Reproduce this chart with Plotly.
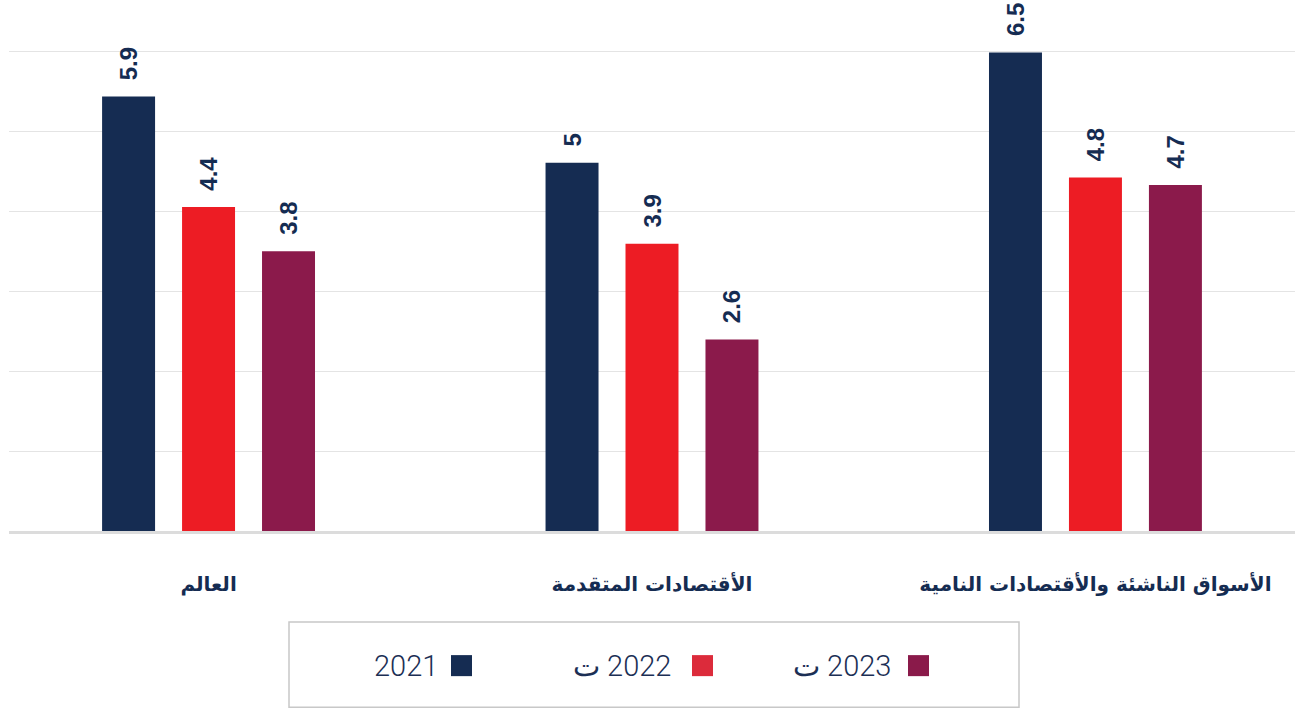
import plotly.graph_objects as go

# ---- data ----
categories = ["العالم", "الأقتصادات المتقدمة", "الأسواق الناشئة والأقتصادات النامية"]
series_names = ["2021", "ت\u200e 2022", "ت\u200e 2023"]
values_2021 = [5.9, 5.0, 6.5]
values_2022 = [4.4, 3.9, 4.8]
values_2023 = [3.8, 2.6, 4.7]
series_values = [values_2021, values_2022, values_2023]
colors = ["#152c52", "#ed1c24", "#8b1a4b"]
legend_colors = ["#152c52", "#dc2b3b", "#8a1a4a"]

W, H = 1295, 709
GRID_STEP = 6.51 / 6          # gridline spacing (axis units)
Y_RANGE_MAX = 6.75
PX_PER_UNIT = 73.56
PLOT_LEFT, PLOT_RIGHT, PLOT_BOTTOM = 9, 1295, 531
PLOT_TOP = PLOT_BOTTOM - Y_RANGE_MAX * PX_PER_UNIT
ML, MR, MT, MB = PLOT_LEFT, W - PLOT_RIGHT, PLOT_TOP, H - PLOT_BOTTOM
NAVY = "#152c52"

fig = go.Figure()
for name, vals, col in zip(series_names, series_values, colors):
    fig.add_trace(go.Bar(
        x=categories, y=vals, name=name,
        marker=dict(color=col, line=dict(width=0)),
        text=["\u00a0\u00a0" + (f"{v:g}") for v in vals],
        textposition="outside", textangle=-90,
        textfont=dict(family="Liberation Sans, Arial, sans-serif", size=24, color=NAVY, weight="bold"),
        cliponaxis=False, showlegend=False, hoverinfo="skip",
    ))

# ---- custom RTL legend (text left of swatch), positions in screen pixels ----
pw, ph = W - ML - MR, H - MT - MB
def px(xs):
    return (xs - ML) / pw
def py(ys):
    return (PLOT_BOTTOM - ys) / ph

shapes = [dict(type="rect", xref="paper", yref="paper",
               x0=px(289), x1=px(1019), y0=py(622), y1=py(707),
               line=dict(color="#c8c8c8", width=1.5), fillcolor="rgba(0,0,0,0)")]
annotations = []
swatch_left = [451, 692, 908]
text_right = [440, 673, 893]
for name, col, sl, tr in zip(series_names, legend_colors, swatch_left, text_right):
    shapes.append(dict(type="rect", xref="paper", yref="paper",
                       x0=px(sl), x1=px(sl + 21), y0=py(655), y1=py(676),
                       line=dict(width=0), fillcolor=col))
    annotations.append(dict(xref="paper", yref="paper", x=px(tr), y=py(666),
                            xanchor="right", yanchor="middle", showarrow=False,
                            text=name,
                            font=dict(family="Roboto, Noto Sans, DejaVu Sans, sans-serif",
                                      size=29, color="#1c2f55", weight=300)))

fig.update_layout(
    width=W, height=H,
    margin=dict(l=ML, r=MR, t=MT, b=MB, pad=0),
    paper_bgcolor="white", plot_bgcolor="white",
    barmode="group", bargap=0.459, bargroupgap=0.3375,
    shapes=shapes, annotations=annotations,
    showlegend=False, hovermode=False,
    xaxis=dict(type="category", range=[-0.45, 2.45], showgrid=False,
               showline=True, linecolor="#dcdcdc", linewidth=3,
               ticks="", ticklabelstandoff=33,
               tickfont=dict(family="DejaVu Sans, sans-serif", size=20, color=NAVY, weight="bold")),
    yaxis=dict(range=[0, Y_RANGE_MAX], tickvals=[GRID_STEP * i for i in range(7)],
               showticklabels=False, showgrid=True, gridcolor="#e4e4e4", gridwidth=1,
               zeroline=False),
)

fig.write_html("out.html", config={"displayModeBar": False},
               post_script="document.body.style.margin='0';document.body.style.padding='0';")
